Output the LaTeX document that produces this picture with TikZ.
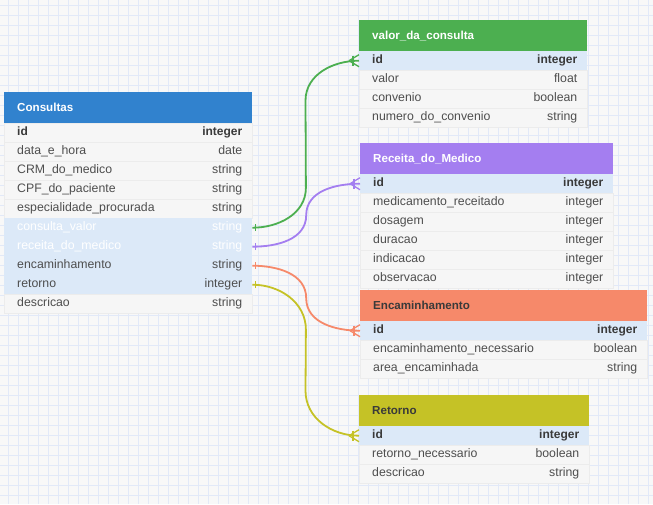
\documentclass[tikz,border=0pt]{standalone}
\usepackage{fontspec}
\setmainfont{Liberation Sans}
\usetikzlibrary{calc}
\definecolor{bgc}{HTML}{F8F8F8}
\definecolor{gridc}{HTML}{E2E9F8}
\definecolor{keyc}{HTML}{DCE9F8}
\definecolor{rowc}{HTML}{F6F6F6}
\definecolor{sepc}{HTML}{ECECEC}
\definecolor{txtc}{HTML}{4E4E4E}
\definecolor{boldc}{HTML}{3A3A3A}
\definecolor{cblue}{HTML}{3182CE}
\definecolor{cgreen}{HTML}{4CAF50}
\definecolor{cpurple}{HTML}{A47EF0}
\definecolor{corange}{HTML}{F6896A}
\definecolor{colive}{HTML}{C5C226}
\tikzset{
  hdr/.style={rectangle, inner sep=0pt, minimum height=31pt, anchor=north west},
  ttl/.style={anchor=west, inner sep=0pt, font=\bfseries\fontsize{11.6pt}{14pt}\selectfont},
  bk/.style={rectangle, fill=keyc, inner sep=0pt, minimum height=19pt, anchor=north west},
  bw/.style={rectangle, fill=rowc, draw=sepc, line width=0.5pt, inner sep=0pt, minimum height=19pt, anchor=north west},
  tk/.style={inner sep=0pt, text height=8.5pt, text depth=2.5pt, text=boldc, font=\bfseries\fontsize{12pt}{13pt}\selectfont},
  tn/.style={inner sep=0pt, text height=8.5pt, text depth=2.5pt, text=txtc, font=\fontsize{12.3pt}{13pt}\selectfont},
  tw/.style={inner sep=0pt, text height=8.5pt, text depth=2.5pt, text=white, font=\fontsize{12.3pt}{13pt}\selectfont},
  conn/.style={line width=1.8pt},
  endmark/.style={line width=1.3pt}
}
\newcommand\ertable[8]{%
  \node[hdr, fill=#5, minimum width=#4pt] (#1h) at (#2,#3) {};
  \node[ttl, text=#6] (#1T) at ([xshift=13pt]#1h.west) {#7};
  \foreach \n/\t/\b/\x [count=\i] in {#8} {
    \node[\b, minimum width=#4pt] (#1\i) at (#2,{#3+31+19*(\i-1)}) {};
    \node[\x, anchor=west] (#1n\i) at ([xshift=13pt]#1\i.west) {\n};
    \node[\x, anchor=east] (#1t\i) at ([xshift=-10pt]#1\i.east) {\t};
  }
}
\newcommand\crowfoot[2]{%
  \draw[endmark, #2] ([xshift=-10pt]#1.west) -- ([yshift=6pt]#1.west);
  \draw[endmark, #2] ([xshift=-10pt]#1.west) -- ([yshift=-6pt]#1.west);
  \draw[endmark, #2] ([xshift=-6pt,yshift=5pt]#1.west) -- ([xshift=-6pt,yshift=-5pt]#1.west);
}
\newcommand\onebar[2]{%
  \draw[endmark, #2] ([xshift=3pt,yshift=3.5pt]#1.east) -- ([xshift=3pt,yshift=-3.5pt]#1.east);
}
\begin{document}
\begin{tikzpicture}[x=1pt, y=-1pt]
\fill[bgc] (0,0) rectangle (653,504);
\useasboundingbox (0,0) rectangle (653,504);
\foreach \gx in {8,18,...,648} \draw[gridc, line width=0.6pt] (\gx,0) -- (\gx,504);
\foreach \gy in {5,15,...,495} \draw[gridc, line width=0.6pt] (0,\gy) -- (653,\gy);

\ertable{C}{4}{92}{248}{cblue}{white}{Consultas}{id/integer/bw/tk, data\_e\_hora/date/bw/tn, CRM\_do\_medico/string/bw/tn, CPF\_do\_paciente/string/bw/tn, especialidade\_procurada/string/bw/tn, consulta\_valor/string/bk/tw, receita\_do\_medico/string/bk/tw, encaminhamento/string/bk/tn, retorno/integer/bk/tn, descricao/string/bw/tn}

\ertable{V}{359}{20}{228}{cgreen}{white}{valor\_da\_consulta}{id/integer/bk/tk, valor/float/bw/tn, convenio/boolean/bw/tn, numero\_do\_convenio/string/bw/tn}

\ertable{R}{360}{143}{253}{cpurple}{white}{Receita\_do\_Medico}{id/integer/bk/tk, medicamento\_receitado/integer/bw/tn, dosagem/integer/bw/tn, duracao/integer/bw/tn, indicacao/integer/bw/tn, observacao/integer/bw/tn}

\ertable{E}{360}{290}{287}{corange}{boldc}{Encaminhamento}{id/integer/bk/tk, encaminhamento\_necessario/boolean/bw/tn, area\_encaminhada/string/bw/tn}

\ertable{T}{359}{395}{230}{colive}{boldc}{Retorno}{id/integer/bk/tk, retorno\_necessario/boolean/bw/tn, descricao/string/bw/tn}

\draw[conn, cgreen] (C6.east) to[out=0,in=-90] ($(C6.east)+(53.5,-40)$) -- ($(V1.west)+(-53.5,40)$) to[out=90,in=180] (V1.west);
\draw[conn, cpurple] (C7.east) to[out=0,in=-90] ($(C7.east)!.5!(R1.west)$) to[out=90,in=180] (R1.west);
\draw[conn, corange] (C8.east) to[out=0,in=90] ($(C8.east)!.5!(E1.west)$) to[out=-90,in=180] (E1.west);
\draw[conn, colive] (C9.east) to[out=0,in=90] ($(C9.east)+(53.5,45)$) -- ($(T1.west)+(-53.5,-45)$) to[out=-90,in=180] (T1.west);
\onebar{C6}{cgreen}
\onebar{C7}{cpurple}
\onebar{C8}{corange}
\onebar{C9}{colive}
\crowfoot{V1}{cgreen}
\crowfoot{R1}{cpurple}
\crowfoot{E1}{corange}
\crowfoot{T1}{colive}
\end{tikzpicture}
\end{document}
